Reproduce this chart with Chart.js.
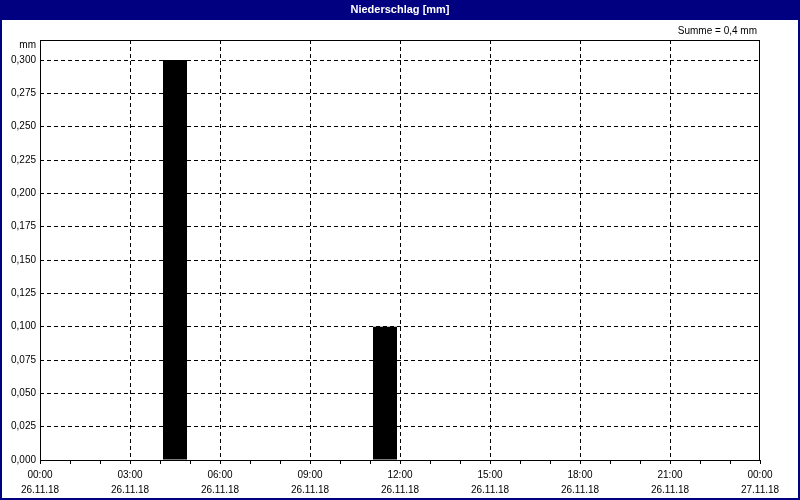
<!DOCTYPE html>
<html>
<head>
<meta charset="utf-8">
<script src="https://cdn.jsdelivr.net/npm/chart.js@4"></script>
<style>
    html, body { margin: 0; padding: 0; background: #fff; }
    #wrap { width: 800px; height: 500px; position: relative; }
</style>
</head>
<body>
<div id="wrap"><canvas id="chart" width="800" height="500"></canvas></div>
<script>
// hourly precipitation, 26.11.18 00:00 .. 27.11.18 00:00
const hours = [0, 1, 2, 3, 4, 5, 6, 7, 8, 9, 10, 11, 12, 13, 14, 15, 16, 17, 18, 19, 20, 21, 22, 23];
const rain = [0, 0, 0, 0, 0.3, 0, 0, 0, 0, 0, 0, 0.1, 0, 0, 0, 0, 0, 0, 0, 0, 0, 0, 0, 0];
const dayLabels = ["26.11.18", "27.11.18"];
const chartTitle = "Niederschlag [mm]";
const unitLabel = "mm";
const sumLabel = "Summe = 0,4 mm";

const FONT = "'Liberation Sans', Arial, sans-serif";

function pad(n) {
    return (n < 10 ? "0" : "") + n;
}

function isStep(v, step) {
    return Math.abs(Math.round(v / step) * step - v) < 1e-9;
}

// navy frame, title bar, extra labels and the solid plot border
const framePlugin = {
    id: "frame",
    beforeDraw(chart) {
        const ctx = chart.ctx;
        ctx.save();
        ctx.fillStyle = "#fff";
        ctx.fillRect(0, 0, chart.width, chart.height);
        ctx.fillStyle = "#000080";
        ctx.fillRect(0, 0, chart.width, 20);
        ctx.strokeStyle = "#000080";
        ctx.lineWidth = 2;
        ctx.strokeRect(1, 1, chart.width - 2, chart.height - 2);
        ctx.fillStyle = "#fff";
        ctx.font = "bold 11px " + FONT;
        ctx.textAlign = "center";
        ctx.textBaseline = "middle";
        ctx.fillText(chartTitle, chart.width / 2, 10);
        ctx.restore();
    },
    afterDraw(chart) {
        const ctx = chart.ctx;
        const a = chart.chartArea;
        ctx.save();
        ctx.strokeStyle = "#000";
        ctx.lineWidth = 1;
        ctx.setLineDash([]);
        ctx.strokeRect(Math.round(a.left) + 0.5, Math.round(a.top) + 0.5,
            Math.round(a.right - a.left) - 1, Math.round(a.bottom - a.top));
        ctx.fillStyle = "#000";
        ctx.font = "10px " + FONT;
        ctx.textBaseline = "middle";
        ctx.textAlign = "right";
        ctx.fillText(unitLabel, a.left - 4, a.top + 5);
        ctx.fillText(sumLabel, a.right - 3, 31);
        ctx.restore();
    }
};

new Chart(document.getElementById("chart"), {
    type: "bar",
    data: {
        datasets: [{
            data: hours.map((h, i) => ({ x: h + 0.5, y: rain[i] })),
            backgroundColor: "#000",
            borderWidth: 0,
            barPercentage: 0.8,
            categoryPercentage: 1.0,
        }],
    },
    plugins: [framePlugin],
    options: {
        responsive: false,
        animation: false,
        layout: { padding: { top: 40, right: 40, left: 0, bottom: 0 } },
        plugins: {
            legend: { display: false },
            title: { display: false },
            tooltip: { enabled: false },
        },
        scales: {
            x: {
                type: "linear",
                min: 0,
                max: 24,
                offset: false,
                afterFit: (scale) => { scale.height = 40; },
                border: { display: false, dash: [4, 3] },
                grid: {
                    offset: false,
                    color: (c) => (c.tick && isStep(c.tick.value, 3) && c.tick.value > 0 && c.tick.value < 24) ? "#000" : "rgba(0,0,0,0)",
                    tickColor: "#000",
                    tickLength: 4,
                    tickBorderDash: [],
                    lineWidth: 1,
                },
                ticks: {
                    stepSize: 1,
                    autoSkip: false,
                    maxRotation: 0,
                    padding: 4,
                    color: "#000",
                    font: { family: FONT, size: 10, lineHeight: 1.5 },
                    callback: (v) => {
                        if (!isStep(v, 3)) return "";
                        const day = v >= 24 ? dayLabels[1] : dayLabels[0];
                        return [pad(v % 24) + ":00", day];
                    },
                },
            },
            y: {
                min: 0,
                max: 0.315,
                afterFit: (scale) => { scale.width = 40; },
                border: { display: false, dash: [4, 3] },
                grid: {
                    color: (c) => (c.tick && isStep(c.tick.value, 0.025) && c.tick.value > 0) ? "#000" : "rgba(0,0,0,0)",
                    drawTicks: false,
                    lineWidth: 1,
                },
                ticks: {
                    stepSize: 0.025,
                    padding: 4,
                    color: "#000",
                    font: { family: FONT, size: 10 },
                    callback: (v) => isStep(v, 0.025) ? v.toFixed(3).replace(".", ",") : "",
                },
            },
        },
    },
});
</script>
</body>
</html>
